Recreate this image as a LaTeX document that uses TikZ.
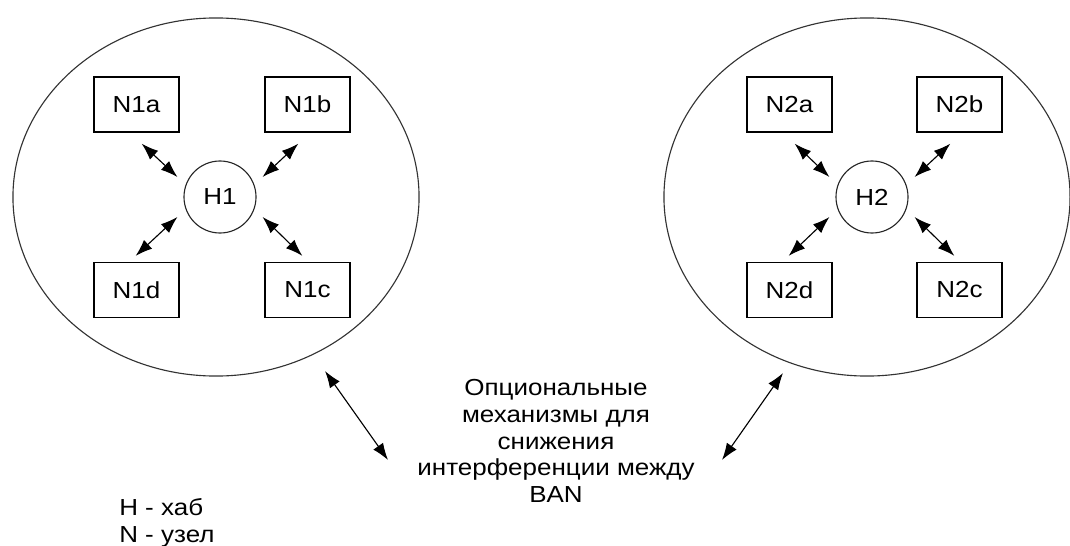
\documentclass[tikz,border=0pt]{standalone}
\usepackage{fontspec}
\setmainfont{Liberation Sans}[FakeStretch=1.12]
\usetikzlibrary{arrows.meta,shapes.geometric}
\tikzset{
  ban/.style={draw=black!80, ellipse, line width=0.8pt, inner sep=0pt,
    minimum width=10.15cm, minimum height=8.95cm},
  nodebox/.style={draw, line width=0.9pt, inner sep=0pt,
    minimum width=2.125cm, minimum height=1.375cm},
  hub/.style={draw=black!85, circle, line width=0.8pt, inner sep=0pt, minimum size=1.8cm},
  link/.style={>={Latex[length=12pt,width=8.5pt]}, <->, line width=0.8pt}
}
\begin{document}
\begin{tikzpicture}[x=0.025cm, y=-0.025cm,
    every node/.style={font=\fontsize{16.5}{19.1}\selectfont}]
  \useasboundingbox (0,0) rectangle (1070,545);
  % two body area networks
  \node[ban] (ban1) at (216,197) {};
  \node[ban] (ban2) at (867,197) {};
  % hubs
  \node[hub] (H1) at (220,197) {H1};
  \node[hub] (H2) at (872,197) {H2};
  % sensor nodes
  \node[nodebox] (N1a) at (136.5,104.5) {N1a};
  \node[nodebox] (N1b) at (307.5,104.5) {N1b};
  \node[nodebox] (N1d) at (136.5,290) {N1d};
  \node[nodebox] (N1c) at (307.5,290) {N1c};
  \node[nodebox] (N2a) at (789.5,104.5) {N2a};
  \node[nodebox] (N2b) at (959.5,104.5) {N2b};
  \node[nodebox] (N2d) at (789.5,290) {N2d};
  \node[nodebox] (N2c) at (959.5,290) {N2c};
  % hub <-> node links
  \foreach \i in {1,2} {
    \draw[link] ([shift={(-38,11)}]N\i a.south east) -- ([shift={(-6,-20)}]H\i.west);
    \draw[link] ([shift={(34,11)}]N\i b.south west) -- ([shift={(6,-20)}]H\i.east);
    \draw[link] ([shift={(-44,-6)}]N\i d.north east) -- ([shift={(-6,20)}]H\i.west);
    \draw[link] ([shift={(38,-6)}]N\i c.north west) -- ([shift={(6,20)}]H\i.east);
  }
  % interference note
  \node[align=center, inner sep=0pt] (note) at (556,441)
    {Опциональные\\механизмы для\\снижения\\интерференции между\\BAN};
  \draw[link] ([shift={(109,174)}]ban1.center) -- ([shift={(-168,19)}]note.center);
  \draw[link] ([shift={(-84,176)}]ban2.center) -- ([shift={(166,19)}]note.center);
  % legend
  \node[align=left, anchor=north west, inner sep=0pt] (legend) at (119,498)
    {H - хаб\\N - узел};
\end{tikzpicture}
\end{document}
